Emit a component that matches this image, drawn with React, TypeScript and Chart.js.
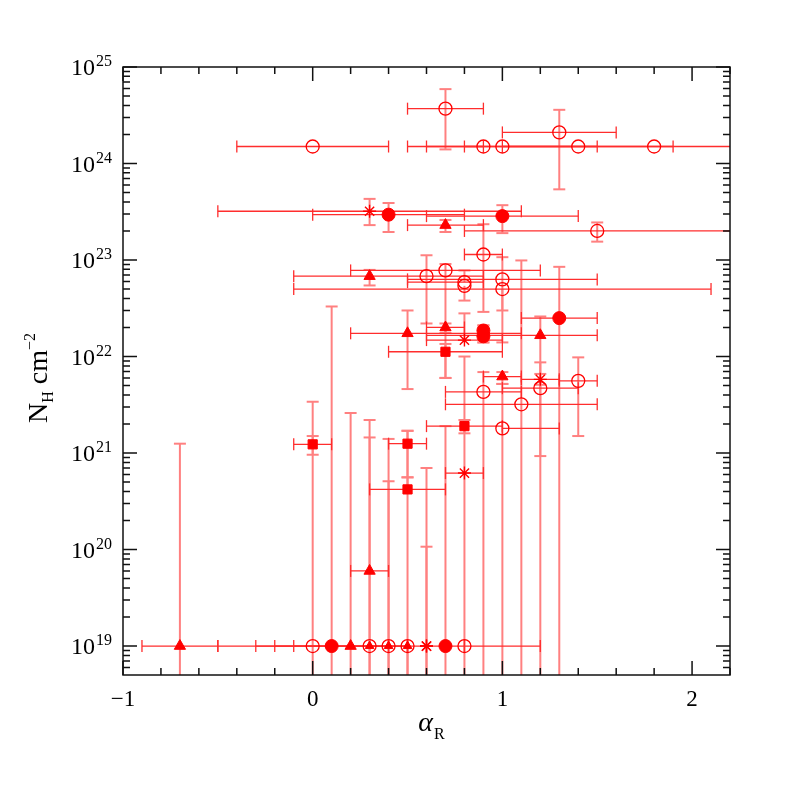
import React, { useEffect, useRef } from "react";
import { Chart, registerables } from "chart.js";
Chart.register(...registerables);

// ---- axis ranges & ticks ----
const X_MIN = -1;
const X_MAX = 2.2;
const Y_MIN = Math.pow(10, 18.7);
const Y_MAX = 1e25;
const xMajorTicks = [-1, 0, 1, 2];
const xTickLabels = ["\u22121", "0", "1", "2"];
const xMinorStep = 0.2;
const yMajorExps = [19, 20, 21, 22, 23, 24, 25];

const LOW = 1e18; // lower error extending below the plotted range

// ---- data (one entry per source) ----
const markers = [
  "oc", "oc", "oc", "oc", "oc", "oc", "oc",
  "ast", "fc", "fc", "tri", "oc", "oc",
  "tri", "oc", "oc", "oc", "oc", "oc", "oc",
  "fc", "tri", "tri", "fc", "fc", "tri", "ast", "sq",
  "tri", "ast", "oc", "oc", "oc", "oc", "oc", "sq", "ast",
  "sq", "sq", "sq", "tri",
  "tri", "oc", "fc", "tri", "oc", "tris", "oc", "tris", "oc", "tris", "ast", "ast", "fc", "oc",
];
const alphaR = [
  0.7, 1.3, 0.0, 0.9, 1.0, 1.4, 1.8,
  0.3, 0.4, 1.0, 0.7, 1.5, 0.9,
  0.3, 0.6, 0.7, 0.8, 0.8, 1.0, 1.0,
  1.3, 0.5, 0.7, 0.9, 0.9, 1.2, 0.8, 0.7,
  1.0, 1.2, 1.2, 1.4, 0.9, 1.1, 1.0, 0.8, 0.8,
  0.0, 0.5, 0.5, 0.3,
  -0.7, 0.0, 0.1, 0.2, 0.3, 0.3, 0.4, 0.4, 0.5, 0.5, 0.6, 0.6, 0.7, 0.8,
];
const nH = [
  3.7e24, 2.1e24, 1.5e24, 1.5e24, 1.5e24, 1.5e24, 1.5e24,
  3.2e23, 2.95e23, 2.85e23, 2.3e23, 2.0e23, 1.14e23,
  6.8e22, 6.8e22, 7.8e22, 5.9e22, 5.4e22, 6.3e22, 5.0e22,
  2.5e22, 1.74e22, 2.0e22, 1.86e22, 1.62e22, 1.66e22, 1.48e22, 1.12e22,
  6.2e21, 5.8e21, 4.7e21, 5.6e21, 4.3e21, 3.2e21, 1.8e21, 1.9e21, 6.2e20,
  1.23e21, 1.25e21, 4.2e20, 6e19,
  1e19, 1e19, 1e19, 1e19, 1e19, 1e19, 1e19, 1e19, 1e19, 1e19, 1e19, 1e19, 1e19, 1e19,
];
const alphaLo = [
  0.5, 1.0, -0.4, 0.5, 1.0, 0.6, 0.8,
  -0.5, 0.0, 0.6, 0.5, 0.8, 0.8,
  -0.1, null, 0.2, 0.5, null, 0.5, -0.1,
  1.1, 0.2, 0.6, null, null, 0.6, 0.6, 0.4,
  0.9, 1.1, 1.0, 1.3, 0.7, 0.7, 1.0, 0.6, 0.7,
  -0.1, 0.4, 0.3, 0.2,
  -0.9, -0.5, -0.3, -0.2, -0.1, null, null, null, null, null, null, null, null, 0.8,
];
const alphaHi = [
  0.9, 1.6, 0.4, 0.9, 1.5, 1.9, 2.5,
  1.1, 0.8, 1.4, 0.9, 2.5, 1.0,
  0.9, null, 1.2, 0.9, null, 1.5, 2.1,
  1.5, 1.1, 0.8, null, null, 1.5, 1.0, 1.0,
  1.1, 1.3, 1.4, 1.5, 1.1, 1.5, 1.3, 1.0, 0.9,
  0.1, 0.6, 0.7, 0.4,
  -0.5, 0.5, 0.8, 0.4, 0.5, null, null, null, null, null, null, null, null, 1.2,
];
const nHLo = [
  1.4e24, 5.4e23, null, null, null, null, null,
  2.3e23, 1.95e23, 1.9e23, 1.95e23, 1.55e23, 2.9e22,
  5.45e22, 2.2e22, 6.0e21, null, 3.8e22, 3.0e22, 1.4e22,
  LOW, 4.6e21, 1.75e22, 1.4e22, 1.4e22, LOW, null, 6.0e21,
  5.2e21, 5.1e21, 9.3e20, 1.5e21, LOW, LOW, LOW, 1.6e21, null,
  9.6e20, 5.6e20, null, null,
  LOW, LOW, LOW, LOW, LOW, LOW, LOW, LOW, LOW, LOW, LOW, LOW, LOW, LOW,
];
const nHHi = [
  5.9e24, 3.6e24, null, null, null, null, null,
  4.3e23, 3.9e23, 3.7e23, 2.6e23, 2.45e23, 2.35e23,
  7.9e22, 1.12e23, 9.1e22, 7.8e22, null, 1.07e23, null,
  8.5e22, 3.0e22, 2.2e22, 2.1e22, 2.1e22, 2.6e22, 2.8e22, 1.35e22,
  6.9e21, 6.6e21, 8.7e21, 9.8e21, 6.9e21, 9.9e22, 5.2e21, 2.2e21, null,
  1.5e21, 1.7e21, 5.6e20, null,
  1.25e21, 3.4e21, 3.3e22, 2.6e21, 2.2e21, 1.45e21, 1.4e21, 5.1e20, 1.7e21, null, 7.0e20, 1.07e20, 1.9e21, 1.0e22,
];

const RED = "#ff0000";
const H_BAR = "rgb(255,45,45)";
const V_BAR = "rgb(255,128,128)";
const CAP = 6;
const FONT = '"Liberation Serif", "Times New Roman", serif';

const styleFor: Record<string, any> = {
  oc: { pointStyle: "circle", radius: 6.5, bg: "rgba(0,0,0,0)", bw: 1.3 },
  fc: { pointStyle: "circle", radius: 6.5, bg: RED, bw: 1 },
  tri: { pointStyle: "triangle", radius: 6.5, bg: RED, bw: 1 },
  tris: { pointStyle: "triangle", radius: 5, bg: RED, bw: 1 },
  sq: { pointStyle: "rect", radius: 6.5, bg: RED, bw: 1 },
  ast: { pointStyle: "star", radius: 6.5, bg: RED, bw: 1.4 },
};
const markerOrder = ["oc", "fc", "tri", "tris", "sq", "ast"];

const errorBarPlugin = {
  id: "errorBars",
  beforeDatasetsDraw(chart: any) {
    const { ctx, chartArea: a, scales } = chart;
    const xs = scales.x;
    const ys = scales.y;
    ctx.save();
    ctx.beginPath();
    ctx.rect(a.left, a.top, a.right - a.left, a.bottom - a.top);
    ctx.clip();
    const seg = (x1: number, y1: number, x2: number, y2: number) => {
      ctx.beginPath();
      ctx.moveTo(x1, y1);
      ctx.lineTo(x2, y2);
      ctx.stroke();
    };
    ctx.strokeStyle = V_BAR;
    ctx.lineWidth = 2;
    for (let i = 0; i < alphaR.length; i++) {
      const px = xs.getPixelForValue(alphaR[i]);
      const py = ys.getPixelForValue(nH[i]);
      const hi = nHHi[i];
      const lo = nHLo[i];
      if (hi == null && lo == null) continue;
      const t = hi != null ? ys.getPixelForValue(hi) : py;
      const b = lo != null ? ys.getPixelForValue(lo) : py;
      seg(px, t, px, b);
      if (hi != null) seg(px - CAP, t, px + CAP, t);
      if (lo != null) seg(px - CAP, b, px + CAP, b);
    }
    ctx.strokeStyle = H_BAR;
    ctx.lineWidth = 1.3;
    for (let i = 0; i < alphaR.length; i++) {
      const lo = alphaLo[i];
      const hi = alphaHi[i];
      if (lo == null || hi == null) continue;
      const py = ys.getPixelForValue(nH[i]);
      const l = xs.getPixelForValue(lo);
      const r = xs.getPixelForValue(hi);
      seg(l, py, r, py);
      seg(l, py - CAP, l, py + CAP);
      seg(r, py - CAP, r, py + CAP);
    }
    ctx.restore();
  },
};

const framePlugin = {
  id: "frame",
  afterDatasetsDraw(chart: any) {
    const { ctx, chartArea: a, scales } = chart;
    const xs = scales.x;
    const ys = scales.y;
    ctx.save();
    ctx.strokeStyle = "#111";
    ctx.lineWidth = 1.5;
    ctx.strokeRect(a.left, a.top, a.right - a.left, a.bottom - a.top);
    const MAJ = 14;
    const MIN = 7;
    const nSteps = Math.round((X_MAX - X_MIN) / xMinorStep);
    for (let k = 0; k <= nSteps; k++) {
      const v = X_MIN + k * xMinorStep;
      const major = xMajorTicks.some((m) => Math.abs(m - v) < 1e-6);
      const len = major ? MAJ : MIN;
      const px = xs.getPixelForValue(v);
      ctx.beginPath();
      ctx.moveTo(px, a.bottom);
      ctx.lineTo(px, a.bottom - len);
      ctx.moveTo(px, a.top);
      ctx.lineTo(px, a.top + len);
      ctx.stroke();
    }
    for (let e = 18; e <= 25; e++) {
      for (let m = 1; m <= 9; m++) {
        const v = m * Math.pow(10, e);
        if (v < Y_MIN * 1.001 || v > Y_MAX * 1.0001) continue;
        const len = m === 1 ? MAJ : MIN;
        const py = ys.getPixelForValue(v);
        ctx.beginPath();
        ctx.moveTo(a.left, py);
        ctx.lineTo(a.left + len, py);
        ctx.moveTo(a.right, py);
        ctx.lineTo(a.right - len, py);
        ctx.stroke();
      }
    }
    ctx.fillStyle = "#000";
    ctx.textAlign = "center";
    ctx.textBaseline = "alphabetic";
    ctx.font = `23px ${FONT}`;
    xMajorTicks.forEach((v, i) => {
      ctx.fillText(xTickLabels[i], xs.getPixelForValue(v), 706);
    });
    ctx.textAlign = "left";
    yMajorExps.forEach((e) => {
      const py = ys.getPixelForValue(Math.pow(10, e));
      ctx.font = `24px ${FONT}`;
      const bw = ctx.measureText("10").width;
      ctx.font = `16px ${FONT}`;
      const sw = ctx.measureText(String(e)).width;
      const x0 = 111 - sw - bw;
      ctx.font = `24px ${FONT}`;
      ctx.fillText("10", x0, py + 8);
      ctx.font = `16px ${FONT}`;
      ctx.fillText(String(e), x0 + bw + 1, py - 1);
    });
    ctx.font = `italic 28px ${FONT}`;
    const aw = ctx.measureText("\u03b1").width;
    ctx.font = `16px ${FONT}`;
    const rw = ctx.measureText("R").width;
    const xs0 = 431 - (aw + rw) / 2;
    ctx.font = `italic 28px ${FONT}`;
    ctx.fillText("\u03b1", xs0, 731);
    ctx.font = `16px ${FONT}`;
    ctx.fillText("R", xs0 + aw + 1, 739);
    const parts = [
      { t: "N", f: `28px ${FONT}`, dy: 0 },
      { t: "H", f: `16px ${FONT}`, dy: 6 },
      { t: " cm", f: `28px ${FONT}`, dy: 0 },
      { t: "\u22122", f: `16px ${FONT}`, dy: -12 },
    ];
    let total = 0;
    const widths = parts.map((p) => {
      ctx.font = p.f;
      const w = ctx.measureText(p.t).width;
      total += w;
      return w;
    });
    ctx.translate(47, 378);
    ctx.rotate(-Math.PI / 2);
    let cx = -total / 2;
    parts.forEach((p, i) => {
      ctx.font = p.f;
      ctx.fillText(p.t, cx, p.dy);
      cx += widths[i];
    });
    ctx.restore();
  },
};

export default function App() {
  const ref = useRef<HTMLCanvasElement | null>(null);
  useEffect(() => {
    if (!ref.current) return;
    const datasets = markerOrder.map((mk) => {
      const s = styleFor[mk];
      const data: { x: number; y: number }[] = [];
      markers.forEach((m, i) => {
        if (m === mk) data.push({ x: alphaR[i], y: nH[i] });
      });
      return {
        label: mk,
        data,
        pointStyle: s.pointStyle,
        pointRadius: s.radius,
        pointHoverRadius: s.radius,
        pointBackgroundColor: s.bg,
        pointBorderColor: RED,
        pointBorderWidth: s.bw,
        showLine: false,
      };
    });
    const chart = new Chart(ref.current, {
      type: "scatter",
      data: { datasets },
      options: {
        animation: false,
        responsive: false,
        events: [],
        layout: { padding: { left: 123, top: 67, right: 67, bottom: 122 } },
        scales: {
          x: { type: "linear", min: X_MIN, max: X_MAX, display: false },
          y: { type: "logarithmic", min: Y_MIN, max: Y_MAX, display: false },
        },
        plugins: { legend: { display: false }, tooltip: { enabled: false } },
      },
      plugins: [errorBarPlugin, framePlugin],
    } as any);
    return () => chart.destroy();
  }, []);
  return (
    <div style={{ position: "absolute", left: 0, top: 0, width: 797, height: 797, background: "#fff" }}>
      <canvas ref={ref} width={797} height={797} />
    </div>
  );
}
